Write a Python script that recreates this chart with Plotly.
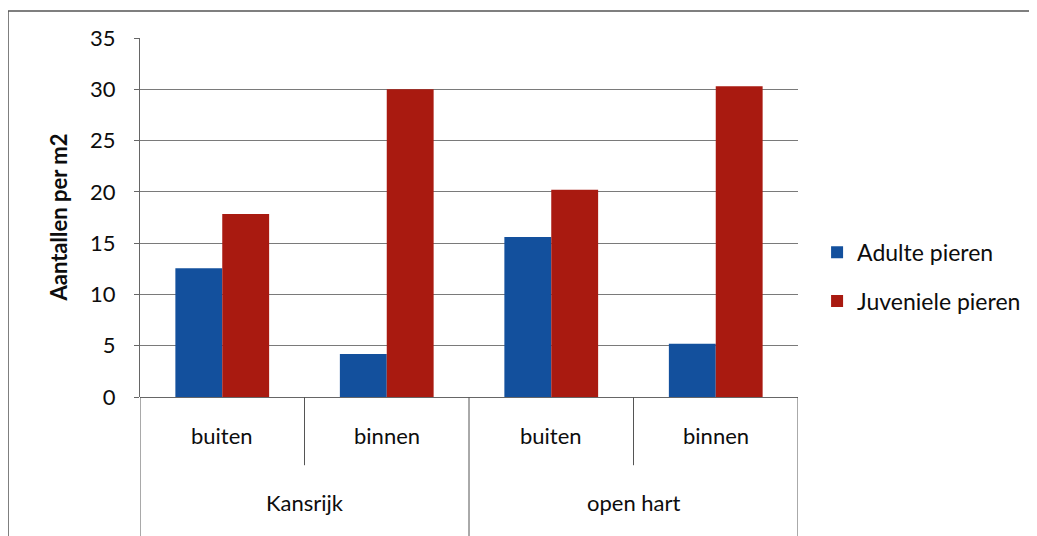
import plotly.graph_objects as go

groups = ["Kansrijk", "open hart"]
subcats = ["buiten", "binnen", "buiten", "binnen"]
group_of = [0, 0, 1, 1]
adult = [12.55, 4.2, 15.6, 5.2]
juvenile = [17.85, 30.0, 20.2, 30.3]
series_names = ["Adulte pieren", "Juveniele pieren"]
y_ticks = [0, 5, 10, 15, 20, 25, 30, 35]

blue = "#13509d"
red = "#a91a10"
FONT = "Lato, 'Open Sans', sans-serif"
TXT = "#0d0d0d"

xs = list(range(len(subcats)))

fig = go.Figure()
fig.add_trace(go.Bar(x=xs, y=adult, name=series_names[0], marker_color=blue,
                     marker_line_width=0, legendgroup="a"))
fig.add_trace(go.Bar(x=xs, y=juvenile, name=series_names[1], marker_color=red,
                     marker_line_width=0, legendgroup="j"))

shapes = []
annotations = []
for i, s in enumerate(subcats):
    annotations.append(dict(x=i, y=-0.108, xref="x", yref="paper", text=s,
                            xanchor="center", yanchor="middle",
                            showarrow=False, font=dict(size=22, color=TXT, family=FONT)))
n = len(subcats)
for b in range(n + 1):
    xb = b - 0.5
    is_group_boundary = b == 0 or b == n or group_of[b - 1] != group_of[b]
    y0 = -0.45 if is_group_boundary else -0.19
    shapes.append(dict(type="line", xref="x", yref="paper", x0=xb, x1=xb, y0=0, y1=y0,
                       line=dict(color="#555555", width=1)))
for g, name in enumerate(groups):
    idx = [i for i in xs if group_of[i] == g]
    annotations.append(dict(x=sum(idx) / len(idx), y=-0.295, xref="x", yref="paper", text=name,
                            xanchor="center", yanchor="middle",
                            showarrow=False, font=dict(size=22, color=TXT, family=FONT)))
annotations.append(dict(x=-0.1246, y=0.5, xref="paper", yref="paper", text="<b>Aantallen per m2</b>",
                        xanchor="center", yanchor="middle",
                        textangle=-90, showarrow=False,
                        font=dict(size=22, color=TXT, family=FONT)))
# outer chart frame (top and left edges visible)
shapes.append(dict(type="line", xref="paper", yref="paper", x0=-0.2006, x1=1.8, y0=1.075, y1=1.075,
                   line=dict(color="#555555", width=1.5), layer="below"))
shapes.append(dict(type="line", xref="paper", yref="paper", x0=-0.2006, x1=-0.2006, y0=-0.6, y1=1.075,
                   line=dict(color="#555555", width=1.5), layer="below"))

fig.update_layout(
    width=1037, height=536,
    margin=dict(l=132, r=247, t=30, b=147),
    paper_bgcolor="white", plot_bgcolor="white",
    barmode="group", bargap=0.43, bargroupgap=0,
    font=dict(family=FONT, size=22, color=TXT),
    showlegend=True,
    legend=dict(x=1.029, y=0.335, xanchor="left", yanchor="middle",
                traceorder="grouped", tracegroupgap=16,
                font=dict(size=23, color=TXT, family=FONT),
                bgcolor="rgba(0,0,0,0)", itemwidth=30),
    shapes=shapes, annotations=annotations,
)
fig.update_xaxes(range=[-0.5, n - 0.5], showticklabels=False, showgrid=False,
                 zeroline=False, showline=False, ticks="", fixedrange=True)
fig.update_yaxes(range=[0, 35], tickvals=y_ticks, showgrid=True, gridcolor="#7a7a7a", gridwidth=1,
                 zeroline=True, zerolinecolor="#666666", zerolinewidth=1,
                 showline=True, linecolor="#666666", linewidth=1,
                 ticks="outside", ticklen=5, tickcolor="#666666", ticklabelstandoff=14,
                 tickfont=dict(size=22, family=FONT, color=TXT), fixedrange=True)

fig.write_html("out.html")
